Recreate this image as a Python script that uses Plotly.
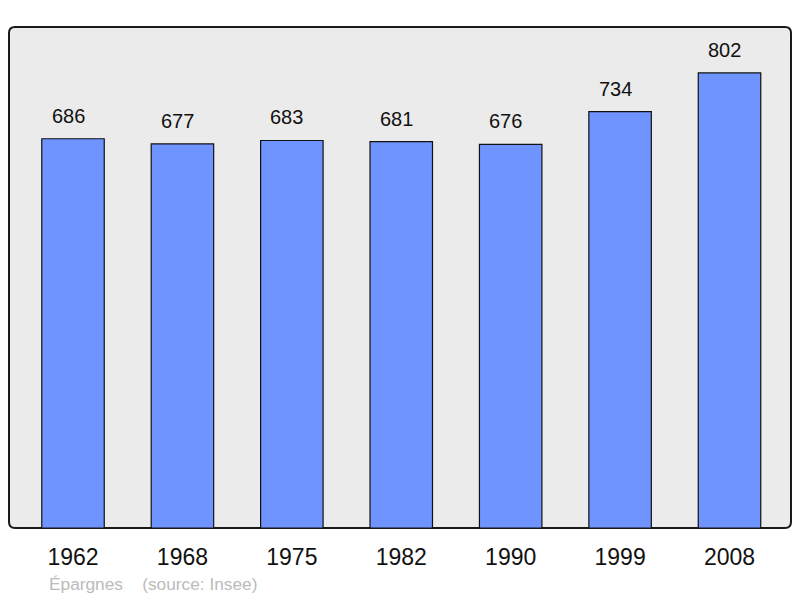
import plotly.graph_objects as go

years = ["1962", "1968", "1975", "1982", "1990", "1999", "2008"]
population = [686, 677, 683, 681, 676, 734, 802]
source_text = "Épargnes    (source: Insee)"

# page has an 8px body margin; compensate so the plot sits where the reference has it
OFF = 8
W, H = 800 - OFF, 598 - OFF
L, R, T, B = 9 - OFF, 9, 27 - OFF, 70
pw, ph = W - L - R, H - T - B

fig = go.Figure()
fig.add_trace(go.Bar(
    x=years, y=population, width=0.571,
    marker=dict(color="#7094ff", line=dict(color="#111111", width=1.2)),
    hoverinfo="skip",
))

for i, v in enumerate(population):
    fig.add_annotation(x=i, y=v, text=str(v), showarrow=False,
                       yanchor="bottom", yshift=10, xshift=-5,
                       font=dict(family="Liberation Sans, Arial", size=20, color="#111111"))

rx, ry = 6 / pw, 6 / ph
path = (f"M {rx},0 L {1-rx},0 Q 1,0 1,{ry} L 1,{1-ry} Q 1,1 {1-rx},1 "
        f"L {rx},1 Q 0,1 0,{1-ry} L 0,{ry} Q 0,0 {rx},0 Z")
fig.add_shape(type="path", xref="paper", yref="paper", path=path,
              fillcolor="#ebebeb", line=dict(color="#1a1a1a", width=2), layer="below")

fig.add_annotation(xref="paper", yref="paper", x=(47 - 9) / pw, y=-(584 - 528) / ph,
                   xanchor="left", yanchor="middle", showarrow=False, text=source_text,
                   font=dict(family="Liberation Sans, Arial", size=17.3, color="#bbbbbb"))

fig.update_layout(
    width=W, height=H, margin=dict(l=L, r=R, t=T, b=B),
    paper_bgcolor="white", plot_bgcolor="white", showlegend=False,
    xaxis=dict(type="category", range=[-0.585, 6.562], showgrid=False, zeroline=False,
               showline=False, ticks="outside", ticklen=8, tickcolor="rgba(0,0,0,0)",
               tickfont=dict(family="Liberation Sans, Arial", size=23, color="#111111")),
    yaxis=dict(range=[0, 883], showgrid=False, zeroline=False, showline=False,
               showticklabels=False),
)

fig.write_html("out.html")
